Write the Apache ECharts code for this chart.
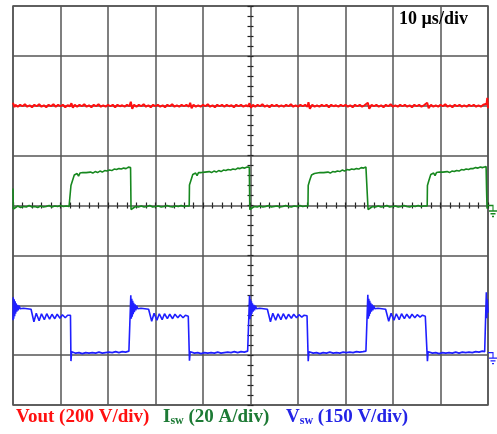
<!DOCTYPE html>
<html><head><meta charset="utf-8">
<script src="https://cdn.jsdelivr.net/npm/echarts@6/dist/echarts.min.js"></script>
<style>html,body{margin:0;padding:0;background:#fff}#c{width:497px;height:434px}</style>
</head><body><div id="c"></div>
<script>
// time in microseconds (10 µs/div), amplitude in screen divisions
const timeScaleLabel = '10 µs/div';
const voutLabel = 'Vout (200 V/div)';
const iswLabel = ['I', 'sw', ' (20 A/div)'];
const vswLabel = ['V', 'sw', ' (150 V/div)'];

const vout = [
[0,2.06],[0.3,1.97],[0.5,2.02],[1,1.98],[1.5,2.02],[2,1.99],[2.5,2.03],[3,1.98],[3.5,2.01],[4,1.97],[4.5,2.02],[5,1.99],[5.5,2.03],[6,1.98],[6.5,2.01],[7,1.97],[7.5,2.02],[8,1.99],[8.5,2.03],[9,1.98],[9.5,2.02],[10,1.99],[10.5,2.02],[11,1.97],[11.5,2.01],[12,1.99],[12.3,2.05],[12.6,1.96],[13,2.02],[13.5,1.98],[14,2.02],[14.5,1.99],[15,2.03],[15.5,1.98],[16,2.01],[16.5,1.97],[17,2.02],[17.5,1.99],[18,2.03],[18.5,1.98],[19,2.01],[19.5,1.98],[20,2.02],[20.5,1.99],[21,2.02],[21.5,1.97],[22,2.02],[22.5,1.99],[23,2.01],[23.5,1.98],[24,2.02],[24.5,1.99],[24.8,2.08],[25.1,1.94],[25.5,2.02],[26,1.98],[26.5,2.02],[27,1.99],[27.5,2.03],[28,1.98],[28.5,2.01],[29,1.97],[29.5,2.02],[30,1.99],[30.5,2.02],[31,1.98],[31.5,2.01],[32,1.97],[32.5,2.02],[33,1.99],[33.5,2.03],[34,1.98],[34.5,2.01],[35,1.98],[35.5,2.02],[36,1.99],[36.5,2.02],[37,1.98],[37.3,2.06],[37.6,1.95],[38,2.02],[38.5,1.98],[39,2.01],[39.5,1.98],[40,2.02],[40.5,1.99],[41,2.03],[41.5,1.98],[42,2.01],[42.5,1.97],[43,2.02],[43.5,1.99],[44,2.02],[44.5,1.98],[45,2.02],[45.5,1.99],[46,2.01],[46.5,1.97],[47,2.02],[47.5,1.99],[48,2.02],[48.5,1.98],[49,2.01],[49.5,1.99],[49.8,2.05],[50.1,1.96],[50.5,2.02],[51,1.98],[51.5,2.02],[52,1.99],[52.5,2.03],[53,1.98],[53.5,2.01],[54,1.97],[54.5,2.02],[55,1.99],[55.5,2.02],[56,1.98],[56.5,2.01],[57,1.98],[57.5,2.02],[58,1.99],[58.5,2.03],[59,1.98],[59.5,2.01],[60,1.98],[60.5,2.02],[61,1.99],[61.5,2.02],[62,1.98],[62.2,2.07],[62.5,1.94],[63,2.02],[63.5,1.98],[64,2.01],[64.5,1.98],[65,2.02],[65.5,1.99],[66,2.02],[66.5,1.97],[67,2.02],[67.5,1.99],[68,2.01],[68.5,1.98],[69,2.02],[69.5,1.99],[70,2.02],[70.5,1.98],[71,2.01],[71.5,1.97],[72,2.02],[72.5,1.99],[73,2.02],[73.5,1.98],[74,2.01],[74.4,1.98],[74.7,2.06],[75.0,1.94],[75.5,2.02],[76,1.99],[76.5,2.02],[77,1.98],[77.5,2.01],[78,1.97],[78.5,2.02],[79,1.99],[79.5,2.03],[80,1.98],[80.5,2.01],[81,1.98],[81.5,2.02],[82,1.99],[82.5,2.02],[83,1.98],[83.5,2.01],[84,1.97],[84.5,2.02],[85,1.99],[85.5,2.02],[86,1.98],[86.5,2.01],[86.9,1.98],[87.2,2.06],[87.5,1.95],[88,2.02],[88.5,1.98],[89,2.01],[89.5,1.98],[90,2.02],[90.5,1.99],[91,2.03],[91.5,1.98],[92,2.01],[92.5,1.97],[93,2.02],[93.5,1.99],[94,2.02],[94.5,1.98],[95,2.01],[95.5,1.98],[96,2.02],[96.5,1.99],[97,2.02],[97.5,1.98],[98,2.01],[98.5,1.98],[99,2.02],[99.4,1.98],[99.7,2.04],[99.85,2.16],[100,1.95]
];

const isw = [
[0,0.34],[0.08,-0.07],[0.4,-0.03],[1.0,-0.01],[1.6,-0.04],[2.2,-0.02],[2.8,-0.03],[3.4,0.00],[4.0,-0.03],[4.6,-0.02],[5.2,-0.04],[5.8,-0.01],[6.4,-0.03],[7.0,-0.02],[7.6,0.00],[8.2,-0.03],[8.8,-0.01],[9.4,-0.02],[10.0,0.00],[10.6,-0.02],[11.2,-0.01],[11.8,-0.02],
[12.15,-0.01],[12.2,0.40],[12.5,0.49],[12.9,0.61],[13.2,0.57],[13.5,0.64],[13.8,0.59],[14.1,0.65],[14.4,0.61],[14.7,0.66],[15.0,0.62],[15.4,0.66],[15.8,0.63],[16.3,0.67],[16.8,0.65],[17.3,0.68],[17.8,0.66],[18.3,0.69],[18.8,0.67],[19.3,0.70],[19.8,0.69],[20.3,0.71],[20.8,0.70],[21.3,0.73],[21.8,0.72],[22.3,0.74],[22.8,0.73],[23.3,0.75],[23.8,0.74],[24.3,0.77],[24.75,0.76],
[24.85,-0.08],[25.2,-0.04],[25.8,-0.02],[26.4,-0.03],[27.0,-0.01],[27.6,-0.03],[28.2,-0.02],[28.8,0.00],[29.4,-0.03],[30.0,-0.02],[30.6,-0.01],[31.2,-0.03],[31.8,-0.02],[32.4,0.00],[33.0,-0.02],[33.6,-0.03],[34.2,-0.01],[34.8,-0.02],[35.4,0.00],[36.0,-0.02],[36.6,-0.01],
[37.1,-0.01],[37.15,0.41],[37.45,0.50],[37.85,0.62],[38.15,0.58],[38.45,0.65],[38.75,0.60],[39.05,0.66],[39.35,0.62],[39.65,0.66],[39.95,0.63],[40.4,0.67],[40.8,0.64],[41.3,0.68],[41.8,0.66],[42.3,0.69],[42.8,0.67],[43.3,0.70],[43.8,0.68],[44.3,0.71],[44.8,0.70],[45.3,0.72],[45.8,0.71],[46.3,0.73],[46.8,0.72],[47.3,0.75],[47.8,0.74],[48.3,0.76],[48.8,0.75],[49.3,0.77],[49.75,0.77],
[49.85,-0.08],[50.2,-0.04],[50.8,-0.02],[51.4,-0.03],[52.0,-0.01],[52.6,-0.03],[53.2,-0.02],[53.8,0.00],[54.4,-0.03],[55.0,-0.02],[55.6,-0.01],[56.2,-0.03],[56.8,-0.02],[57.4,0.00],[58.0,-0.02],[58.6,-0.03],[59.2,-0.01],[59.8,-0.02],[60.4,0.00],[61.0,-0.02],[61.6,-0.01],
[62.1,-0.01],[62.15,0.40],[62.45,0.50],[62.85,0.61],[63.15,0.57],[63.45,0.64],[63.75,0.60],[64.05,0.65],[64.35,0.61],[64.65,0.66],[64.95,0.63],[65.4,0.66],[65.8,0.64],[66.3,0.67],[66.8,0.65],[67.3,0.68],[67.8,0.67],[68.3,0.69],[68.8,0.68],[69.3,0.71],[69.8,0.69],[70.3,0.72],[70.8,0.71],[71.3,0.73],[71.8,0.72],[72.3,0.74],[72.8,0.73],[73.3,0.76],[73.8,0.75],[74.3,0.77],[74.65,0.76],
[74.75,-0.08],[75.1,-0.04],[75.7,-0.02],[76.3,-0.03],[76.9,-0.01],[77.5,-0.03],[78.1,-0.02],[78.7,0.00],[79.3,-0.03],[79.9,-0.02],[80.5,-0.01],[81.1,-0.03],[81.7,-0.02],[82.3,0.00],[82.9,-0.02],[83.5,-0.03],[84.1,-0.01],[84.7,-0.02],[85.3,0.00],[85.9,-0.02],[86.5,-0.01],
[87.2,-0.01],[87.25,0.40],[87.55,0.50],[87.95,0.62],[88.25,0.58],[88.55,0.65],[88.85,0.60],[89.15,0.66],[89.45,0.62],[89.75,0.67],[90.05,0.63],[90.5,0.67],[90.9,0.65],[91.4,0.68],[91.9,0.66],[92.4,0.69],[92.9,0.68],[93.4,0.70],[93.9,0.69],[94.4,0.72],[94.9,0.71],[95.4,0.73],[95.9,0.72],[96.4,0.74],[96.9,0.74],[97.4,0.76],[97.9,0.75],[98.4,0.77],[98.9,0.76],[99.3,0.78],[99.6,0.78],
[99.7,0.30],[99.8,-0.06],[100,-0.03]
];

const vsw = [
[0,-2.30],[0.05,-1.84],[0.15,-2.27],[0.25,-1.88],[0.35,-2.22],[0.45,-1.92],[0.55,-2.17],[0.65,-1.96],[0.8,-2.13],[0.95,-1.99],[1.1,-2.10],[1.3,-2.01],[1.5,-2.07],[1.8,-2.03],[2.2,-2.06],[2.6,-2.04],[3.0,-2.07],[3.4,-2.06],[3.8,-2.08],[4.1,-2.09],[4.4,-2.33],[4.9,-2.16],[5.5,-2.31],[6.0,-2.17],[6.6,-2.29],[7.1,-2.17],[7.7,-2.28],[8.2,-2.18],[8.8,-2.27],[9.3,-2.18],[9.9,-2.26],[10.4,-2.19],[11.0,-2.25],[11.5,-2.20],[12.1,-2.20],
[12.2,-3.12],[12.35,-2.93],[12.55,-2.97],[13.2,-2.96],[13.9,-2.95],[14.6,-2.97],[15.3,-2.95],[16.0,-2.96],[16.7,-2.95],[17.4,-2.96],[18.1,-2.94],[18.8,-2.96],[19.5,-2.95],[20.2,-2.94],[20.9,-2.95],[21.6,-2.93],[22.3,-2.95],[23.0,-2.93],[23.7,-2.94],[24.4,-2.92],[24.75,-2.93],
[24.8,-1.80],[24.9,-2.27],[25.0,-1.87],[25.1,-2.23],[25.2,-1.91],[25.3,-2.18],[25.4,-1.95],[25.55,-2.14],[25.7,-1.98],[25.85,-2.10],[26.05,-2.01],[26.25,-2.07],[26.55,-2.03],[26.95,-2.06],[27.35,-2.04],[27.75,-2.07],[28.15,-2.06],[28.55,-2.08],[28.9,-2.09],[29.2,-2.32],[29.7,-2.16],[30.3,-2.30],[30.8,-2.17],[31.4,-2.29],[31.9,-2.17],[32.5,-2.27],[33.0,-2.18],[33.6,-2.27],[34.1,-2.18],[34.7,-2.25],[35.2,-2.19],[35.8,-2.25],[36.3,-2.20],[36.9,-2.22],[37.05,-2.21],
[37.15,-3.11],[37.3,-2.93],[37.5,-2.97],[38.2,-2.96],[38.9,-2.95],[39.6,-2.97],[40.3,-2.95],[41.0,-2.96],[41.7,-2.95],[42.4,-2.96],[43.1,-2.94],[43.8,-2.96],[44.5,-2.95],[45.2,-2.94],[45.9,-2.95],[46.6,-2.93],[47.3,-2.95],[48.0,-2.93],[48.7,-2.94],[49.4,-2.92],[49.75,-2.93],
[49.8,-1.81],[49.9,-2.28],[50.0,-1.88],[50.1,-2.22],[50.2,-1.92],[50.3,-2.17],[50.4,-1.96],[50.55,-2.13],[50.7,-1.99],[50.85,-2.10],[51.05,-2.01],[51.25,-2.07],[51.55,-2.03],[51.95,-2.06],[52.35,-2.04],[52.75,-2.07],[53.15,-2.05],[53.55,-2.08],[53.9,-2.09],[54.2,-2.33],[54.7,-2.16],[55.3,-2.30],[55.8,-2.17],[56.4,-2.29],[56.9,-2.17],[57.5,-2.28],[58.0,-2.18],[58.6,-2.26],[59.1,-2.18],[59.7,-2.25],[60.2,-2.19],[60.8,-2.24],[61.3,-2.20],[61.9,-2.21],[62.05,-2.20],
[62.15,-3.12],[62.3,-2.93],[62.5,-2.97],[63.2,-2.96],[63.9,-2.95],[64.6,-2.97],[65.3,-2.95],[66.0,-2.96],[66.7,-2.94],[67.4,-2.96],[68.1,-2.95],[68.8,-2.96],[69.5,-2.94],[70.2,-2.95],[70.9,-2.94],[71.6,-2.95],[72.3,-2.93],[73.0,-2.94],[73.7,-2.93],[74.3,-2.92],[74.65,-2.93],
[74.7,-1.79],[74.8,-2.27],[74.9,-1.87],[75.0,-2.22],[75.1,-1.91],[75.2,-2.17],[75.3,-1.95],[75.45,-2.13],[75.6,-1.98],[75.75,-2.10],[75.95,-2.01],[76.15,-2.07],[76.45,-2.03],[76.85,-2.06],[77.25,-2.04],[77.65,-2.07],[78.05,-2.06],[78.45,-2.08],[78.8,-2.09],[79.1,-2.32],[79.6,-2.16],[80.2,-2.30],[80.7,-2.17],[81.3,-2.29],[81.8,-2.17],[82.4,-2.27],[82.9,-2.18],[83.5,-2.26],[84.0,-2.18],[84.6,-2.25],[85.1,-2.19],[85.7,-2.24],[86.2,-2.20],[86.8,-2.22],[87.15,-2.21],
[87.25,-3.12],[87.4,-2.93],[87.6,-2.97],[88.3,-2.96],[89.0,-2.95],[89.7,-2.97],[90.4,-2.95],[91.1,-2.96],[91.8,-2.95],[92.5,-2.96],[93.2,-2.94],[93.9,-2.96],[94.6,-2.94],[95.3,-2.95],[96.0,-2.94],[96.7,-2.95],[97.4,-2.93],[98.1,-2.94],[98.8,-2.92],[99.3,-2.93],[99.6,-2.92],
[99.65,-1.74],[99.75,-2.26],[99.85,-1.88],[100,-2.15]
];

// channel ground reference levels (divisions)
const iswGround = 0;
const vswGround = -2.95;

const RED = '#ff1010', GREEN = '#17881f', BLUE = '#1f1fff';
const GREEN_TXT = '#1d7a35', BLUE_TXT = '#2424e6';
const GRID = '#555555';
const SERIF = "'Liberation Serif','Times New Roman',serif";
const groundPath = 'path://M0,0 H5 V5 M1,5 H9 M2.5,7.5 H7.5 M4,10 H6';

const chart = echarts.init(document.getElementById('c'), null, {renderer: 'canvas'});
const hidden = {show: false};
function tickAxis(pos, interval, idx) {
  return {type: 'value', min: idx === 'x' ? 0 : -4, max: idx === 'x' ? 100 : 4, interval: interval, position: pos,
    axisLine: {show: false, onZero: idx === 'x', onZeroAxisIndex: 0},
    axisTick: {show: true, length: 3, lineStyle: {color: '#222', width: 1.2}},
    axisLabel: hidden, splitLine: hidden};
}
const xTicksBottom = tickAxis('bottom', 2, 'x');
const xTicksTop = tickAxis('top', 2, 'x');
const yTicksLeft = Object.assign(tickAxis('left', 0.2, 'y'), {offset: -237.5});
const yTicksRight = Object.assign(tickAxis('right', 0.2, 'y'), {offset: -237.5});

function trace(data, color, width, ground) {
  const s = {type: 'line', data: data, xAxisIndex: 0, yAxisIndex: 0, showSymbol: false, symbol: 'none',
    lineStyle: {color: color, width: width}, itemStyle: {color: color}, silent: true, animation: false, z: 3};
  if (ground !== undefined) {
    s.markPoint = {symbol: groundPath, symbolSize: [9, 11], symbolOffset: [4.5, 5.5], silent: true, animation: false,
      label: hidden, itemStyle: {color: 'none', borderColor: color, borderWidth: 1.2},
      data: [{coord: [100, ground]}]};
  }
  return s;
}

chart.setOption({
  animation: false,
  backgroundColor: '#ffffff',
  grid: {left: 13, top: 6, width: 475, height: 399, show: true, borderColor: GRID, borderWidth: 1.5, backgroundColor: 'transparent'},
  xAxis: [
    {type: 'value', min: 0, max: 100, interval: 10, axisLine: {show: false, onZero: false}, axisTick: hidden, axisLabel: hidden,
     splitLine: {show: true, lineStyle: {color: GRID, width: 1.5}}},
    xTicksBottom, xTicksTop
  ],
  yAxis: [
    {type: 'value', min: -4, max: 4, interval: 1, axisLine: {show: false, onZero: false}, axisTick: hidden, axisLabel: hidden,
     splitLine: {show: true, lineStyle: {color: GRID, width: 1.5}}},
    yTicksLeft, yTicksRight
  ],
  graphic: [
    {type: 'text', left: 399, top: 10, z: 10, style: {text: timeScaleLabel, font: 'bold 18px ' + SERIF, fill: '#000'}},
    {type: 'text', left: 16, top: 408, z: 10, style: {text: voutLabel, font: 'bold 19px ' + SERIF, fill: RED}},
    {type: 'text', left: 163, top: 408, z: 10, style: {
      text: '{m|' + iswLabel[0] + '}{s|' + iswLabel[1] + '}{m|' + iswLabel[2] + '}',
      rich: {m: {fontFamily: SERIF, fontWeight: 'bold', fontSize: 19, lineHeight: 22, verticalAlign: 'bottom', fill: GREEN_TXT, color: GREEN_TXT},
             s: {fontFamily: SERIF, fontWeight: 'bold', fontSize: 12, lineHeight: 12, verticalAlign: 'bottom', fill: GREEN_TXT, color: GREEN_TXT}}}},
    {type: 'text', left: 286, top: 408, z: 10, style: {
      text: '{m|' + vswLabel[0] + '}{s|' + vswLabel[1] + '}{m|' + vswLabel[2] + '}',
      rich: {m: {fontFamily: SERIF, fontWeight: 'bold', fontSize: 19, lineHeight: 22, verticalAlign: 'bottom', fill: BLUE_TXT, color: BLUE_TXT},
             s: {fontFamily: SERIF, fontWeight: 'bold', fontSize: 12, lineHeight: 12, verticalAlign: 'bottom', fill: BLUE_TXT, color: BLUE_TXT}}}}
  ],
  series: [
    trace(vout, RED, 2, undefined),
    trace(isw, GREEN, 1.6, iswGround),
    trace(vsw, BLUE, 1.6, vswGround)
  ]
});
</script></body></html>
